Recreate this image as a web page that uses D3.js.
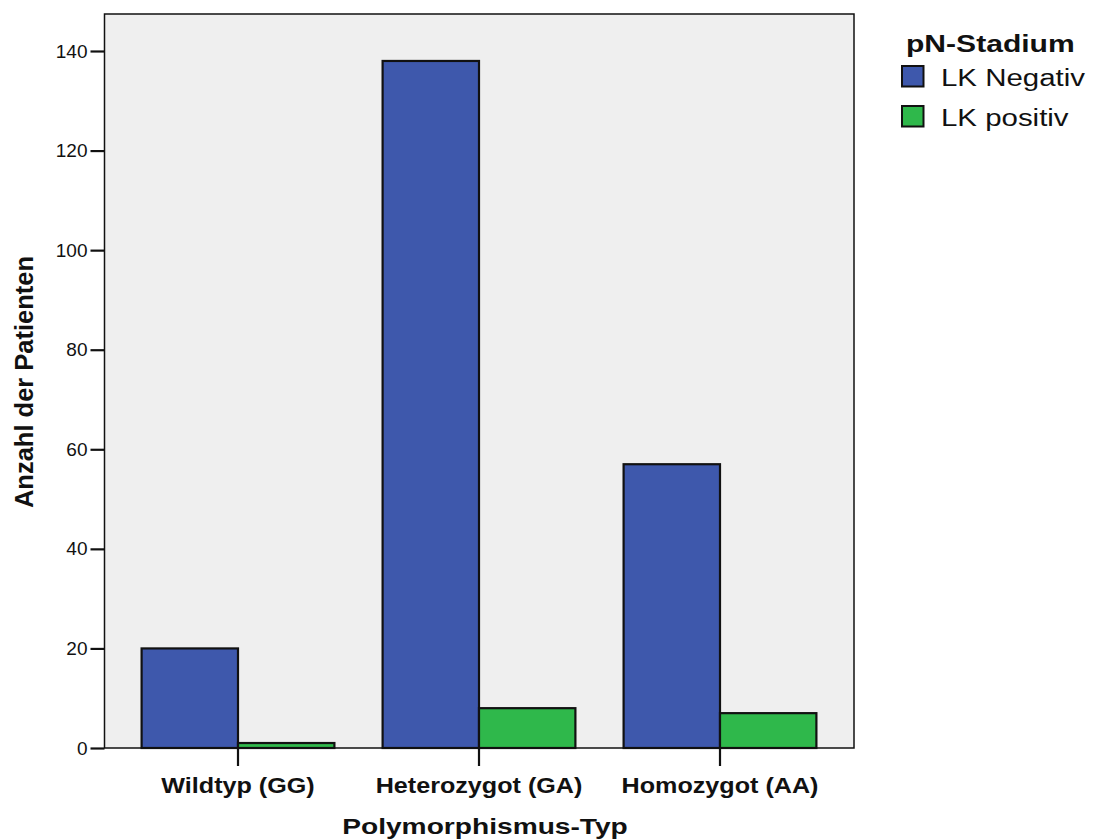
<!DOCTYPE html>
<html><head><meta charset="utf-8">
<script src="https://cdn.jsdelivr.net/npm/d3@7"></script>
<style>body{margin:0;background:#fff}svg{display:block;font-family:"Liberation Sans",Arial,sans-serif}</style>
</head><body>
<svg id="c" width="1095" height="840"></svg>
<script>
const categories = ["Wildtyp (GG)", "Heterozygot (GA)", "Homozygot (AA)"];
const seriesNames = ["LK Negativ", "LK positiv"];
const lkNegativ = [20, 138, 57];
const lkPositiv = [1, 8, 7];
const yTicks = [0, 20, 40, 60, 80, 100, 120, 140];
const colors = ["#3e58ac", "#2fb84b"];

const svg = d3.select("#c");
const L = 104.5, R = 854, T = 14, B = 748;
const FF = "Liberation Sans, Arial, sans-serif";

const y = d3.scaleLinear().domain([0, 140]).range([B, 51]);
const x = d3.scaleBand().domain(categories).range([117.5, 840.5]).paddingInner(0.2).paddingOuter(0.1);
const xs = d3.scaleBand().domain(seriesNames).range([0, x.bandwidth()]);

svg.append("rect").attr("x", L).attr("y", T).attr("width", R - L).attr("height", B - T).attr("fill", "#efefef");

const series = [lkNegativ, lkPositiv];
categories.forEach((c, i) => {
  series.forEach((s, j) => {
    svg.append("rect")
      .attr("x", x(c) + xs(seriesNames[j]))
      .attr("y", y(s[i]))
      .attr("width", xs.bandwidth())
      .attr("height", B - y(s[i]))
      .attr("fill", colors[j]).attr("stroke", "#111").attr("stroke-width", 2.2);
  });
});

svg.append("rect").attr("x", L).attr("y", T).attr("width", R - L).attr("height", B - T)
  .attr("fill", "none").attr("stroke", "#111").attr("stroke-width", 1.5);

// y axis
const ya = svg.append("g").attr("transform", `translate(${L},0)`)
  .call(d3.axisLeft(y).tickValues(yTicks).tickSize(14).tickPadding(3));
ya.select(".domain").remove();
ya.selectAll(".tick line").attr("stroke", "#111").attr("stroke-width", 2.2);
ya.selectAll(".tick text").attr("font-size", 19).attr("fill", "#111").attr("font-family", FF);

// x axis
const xa = svg.append("g").attr("transform", `translate(0,${B})`)
  .call(d3.axisBottom(x).tickSize(18).tickPadding(0));
xa.select(".domain").remove();
xa.selectAll(".tick line").attr("stroke", "#111").attr("stroke-width", 2.2);
xa.selectAll(".tick text").attr("font-size", 21.5).attr("font-weight", "bold").attr("fill", "#111")
  .attr("font-family", FF).attr("dy", null).attr("y", 0)
  .attr("transform", "translate(0,45) scale(1.17,1)");

function stretched(xp, yp, sx, txt, size, bold, anchor) {
  svg.append("text").attr("transform", `translate(${xp},${yp}) scale(${sx},1)`)
    .attr("text-anchor", anchor || "start").attr("font-size", size)
    .attr("font-weight", bold ? "bold" : "normal").attr("fill", "#111").text(txt);
}

stretched(485, 834, 1.28, "Polymorphismus-Typ", 22, true, "middle");
svg.append("text").attr("transform", "translate(33,382) rotate(-90)").attr("text-anchor", "middle")
  .attr("font-size", 25.5).attr("font-weight", "bold").attr("fill", "#111").text("Anzahl der Patienten");

// legend
stretched(906, 52, 1.28, "pN-Stadium", 23.5, true, "start");
seriesNames.forEach((n, j) => {
  const yy = 66 + j * 40;
  svg.append("rect").attr("x", 902).attr("y", yy).attr("width", 21.5).attr("height", 20.5)
    .attr("fill", colors[j]).attr("stroke", "#111").attr("stroke-width", 2);
  stretched(941, yy + 19.5, 1.28, n, 23, false, "start");
});
</script>
</body></html>
